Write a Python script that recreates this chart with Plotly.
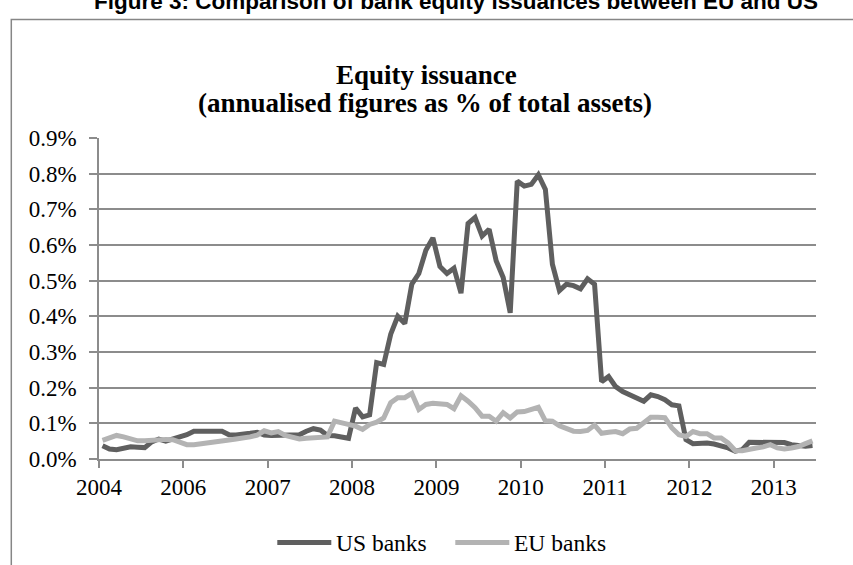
import plotly.graph_objects as go

# Monthly observations (annualised equity issuance, % of total assets)
us_banks = [
    0.037, 0.028, 0.026, 0.030, 0.034, 0.033, 0.032, 0.048, 0.056, 0.050,
    0.056, 0.062, 0.068, 0.078, 0.079, 0.079, 0.078, 0.078, 0.068, 0.067,
    0.068, 0.072, 0.075, 0.067, 0.066, 0.066, 0.067, 0.066, 0.068, 0.078,
    0.085, 0.081, 0.066, 0.065, 0.062, 0.058, 0.143, 0.118, 0.124, 0.270,
    0.265, 0.350, 0.400, 0.380, 0.490, 0.520, 0.585, 0.620, 0.540, 0.520,
    0.535, 0.465, 0.660, 0.677, 0.625, 0.644, 0.556, 0.509, 0.410, 0.779,
    0.765, 0.770, 0.797, 0.756, 0.546, 0.472, 0.490, 0.486, 0.477, 0.505,
    0.490, 0.217, 0.231, 0.203, 0.189, 0.180, 0.168, 0.162, 0.180, 0.175,
    0.166, 0.152, 0.149, 0.054, 0.043, 0.045, 0.045, 0.042, 0.038, 0.031,
    0.022, 0.026, 0.047, 0.047, 0.046, 0.049, 0.048, 0.046, 0.040, 0.037,
    0.036, 0.038,
]
eu_banks = [
    0.052, 0.060, 0.066, 0.062, 0.056, 0.051, 0.051, 0.053, 0.055, 0.055,
    0.054, 0.048, 0.040, 0.040, 0.042, 0.044, 0.046, 0.050, 0.053, 0.056,
    0.058, 0.062, 0.067, 0.079, 0.073, 0.077, 0.066, 0.062, 0.056, 0.058,
    0.060, 0.061, 0.062, 0.106, 0.101, 0.096, 0.092, 0.083, 0.097, 0.103,
    0.115, 0.158, 0.172, 0.172, 0.184, 0.139, 0.153, 0.156, 0.155, 0.153,
    0.141, 0.177, 0.162, 0.144, 0.120, 0.120, 0.106, 0.130, 0.115, 0.132,
    0.133, 0.140, 0.145, 0.107, 0.106, 0.093, 0.084, 0.078, 0.077, 0.080,
    0.095, 0.072, 0.075, 0.077, 0.071, 0.084, 0.086, 0.103, 0.117, 0.117,
    0.116, 0.087, 0.068, 0.063, 0.077, 0.071, 0.071, 0.059, 0.059, 0.045,
    0.024, 0.023, 0.028, 0.031, 0.034, 0.040, 0.031, 0.028, 0.031, 0.035,
    0.043, 0.051,
]
year_labels = ["2004", "2006", "2007", "2008", "2009", "2010", "2011", "2012", "2013"]
y_ticks = [0.0, 0.1, 0.2, 0.3, 0.4, 0.5, 0.6, 0.7, 0.8, 0.9]
series_names = ["US banks", "EU banks"]
series_colors = ["#5f5f5f", "#b3b3b3"]

n = len(us_banks)
months = [i + 0.5 for i in range(n)]          # points centred in each monthly slot
tick_pos = [12 * k for k in range(len(year_labels))]

W, H = 853, 565
# plot area in window pixels: x 98.7..815.7, y 137.7..459.3
ML = 98.7
MR = W - 815.7
MT = 137.7
MB = H - 459.3
PW, PH = W - ML - MR, H - MT - MB


def px(x):
    """window x pixel -> paper coordinate"""
    return (x - ML) / PW


def py(y):
    """window y pixel -> paper coordinate"""
    return (H - MB - y) / PH


SERIF = "Liberation Serif, Times New Roman, serif"
GRID = "#8c8c8c"
LW = 5

fig = go.Figure()
for vals, name, col in zip([us_banks, eu_banks], series_names, series_colors):
    fig.add_trace(go.Scatter(x=months, y=vals, mode="lines", name=name,
                             line=dict(color=col, width=LW)))

# manual legend (Excel-like, below the plot)
legend_items = [(277, 331, 334), (455, 509, 512)]
shapes = [dict(type="rect", xref="paper", yref="paper",
               x0=px(11), x1=px(880), y0=py(600), y1=py(19),
               line=dict(color="#868686", width=1.5), fillcolor="rgba(0,0,0,0)", layer="below")]
annotations = [
    dict(text="<b>Figure 3: Comparison of bank equity issuances between EU and US</b>",
         xref="paper", yref="paper", x=px(456), y=py(0.5), xanchor="center", yanchor="middle",
         showarrow=False, font=dict(family="Liberation Sans, Arial, sans-serif", size=22.5, color="black")),
    dict(text="<b>Equity issuance</b>", xref="paper", yref="paper", x=px(426), y=py(75),
         xanchor="center", yanchor="middle", showarrow=False,
         font=dict(family=SERIF, size=27, color="black")),
    dict(text="<b>(annualised figures as % of total assets)</b>", xref="paper", yref="paper",
         x=px(425), y=py(103), xanchor="center", yanchor="middle", showarrow=False,
         font=dict(family=SERIF, size=27, color="black")),
]
for (x0, x1, xt), name, col in zip(legend_items, series_names, series_colors):
    shapes.append(dict(type="line", xref="paper", yref="paper", x0=px(x0), x1=px(x1),
                       y0=py(543), y1=py(543), line=dict(color=col, width=LW)))
    annotations.append(dict(text=name, xref="paper", yref="paper", x=px(xt), y=py(543),
                            xanchor="left", yanchor="middle", showarrow=False,
                            font=dict(family=SERIF, size=23.5, color="black")))

fig.update_layout(
    width=W, height=H,
    margin=dict(l=ML, r=MR, t=MT, b=MB, pad=0, autoexpand=False),
    paper_bgcolor="white", plot_bgcolor="white",
    font=dict(family=SERIF, size=22, color="black"),
    showlegend=False,
    xaxis=dict(range=[0, n], tickmode="array", tickvals=tick_pos, ticktext=year_labels,
               showgrid=False, zeroline=False, showline=True, linecolor=GRID, linewidth=1.5,
               ticks="outside", ticklen=7, tickwidth=1.5, tickcolor=GRID, automargin=False,
               tickfont=dict(family=SERIF, size=23, color="black")),
    yaxis=dict(range=[0, 0.9], tickmode="array", tickvals=y_ticks,
               ticktext=[f"{v:.1f}%" for v in y_ticks],
               showgrid=True, gridcolor=GRID, gridwidth=1.5, zeroline=False,
               showline=True, linecolor=GRID, linewidth=1.5, automargin=False,
               ticks="outside", ticklen=8, tickwidth=1.5, tickcolor=GRID,
               ticklabelstandoff=8,
               tickfont=dict(family=SERIF, size=23, color="black")),
    shapes=shapes,
    annotations=annotations,
)

# remove the default page margin so the figure sits at the window's top-left corner
fig.write_html("out.html", config={"displayModeBar": False},
               post_script="document.body.style.margin='0px';")
